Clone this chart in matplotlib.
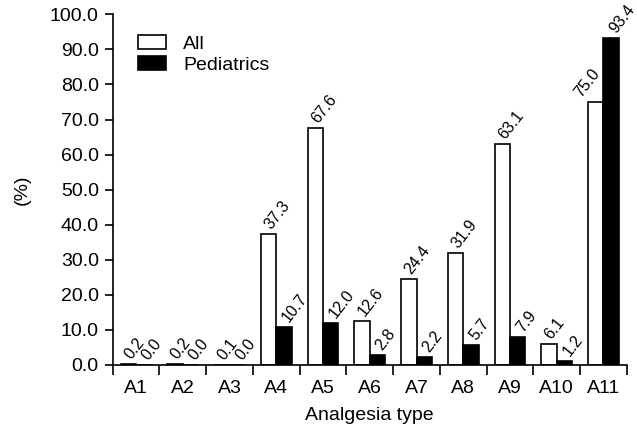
import numpy as np
import matplotlib
matplotlib.use("Agg")
import matplotlib.pyplot as plt

plt.rcParams["font.family"] = ["Liberation Sans", "DejaVu Sans"]

categories = ["A1", "A2", "A3", "A4", "A5", "A6", "A7", "A8", "A9", "A10", "A11"]
all_vals = [0.2, 0.2, 0.1, 37.3, 67.6, 12.6, 24.4, 31.9, 63.1, 6.1, 75.0]
ped_vals = [0.0, 0.0, 0.0, 10.7, 12.0, 2.8, 2.2, 5.7, 7.9, 1.2, 93.4]

fig = plt.figure(figsize=(6.37, 4.36), dpi=100)
ax = fig.add_axes([0.177, 0.163, 0.807, 0.804])

x = np.arange(len(categories))
w = 0.33
ax.bar(x - w / 2, all_vals, w, color="white", edgecolor="black", linewidth=1.2, label="All")
ax.bar(x + w / 2, ped_vals, w, color="black", edgecolor="black", linewidth=1.2, label="Pediatrics")

# rotated value labels sitting on the bar's top-left corner;
# an "All" label next to a taller Pediatrics bar goes to the left instead
fs_val = 11.5
for i, (a, p) in enumerate(zip(all_vals, ped_vals)):
    if p > a:
        ax.text(i - 0.02, a + 0.6, f"{a:.1f}", rotation=52, ha="right", va="bottom", fontsize=fs_val)
    else:
        ax.text(i - w + 0.02, a + 0.6, f"{a:.1f}", rotation=52, ha="left", va="bottom", fontsize=fs_val)
    ax.text(i + 0.07, p + 0.6, f"{p:.1f}", rotation=52, ha="left", va="bottom", fontsize=fs_val)

ax.set_xlim(-0.5, len(categories) - 0.5)
ax.set_ylim(0, 100)
yt = np.arange(0, 101, 10)
ax.set_yticks(yt)
ax.set_yticklabels([f"{t:.1f}" for t in yt], fontsize=14)
ax.set_xticks(x)
ax.set_xticklabels(categories, fontsize=14)
ax.tick_params(axis="x", which="major", length=0, pad=11)
ax.set_xticks(np.arange(-0.5, len(categories), 1), minor=True)
ax.tick_params(axis="x", which="minor", length=7, width=1.2, direction="out")
ax.tick_params(axis="y", length=6, width=1.2, direction="out", pad=4)
for s in ("top", "right"):
    ax.spines[s].set_visible(False)
for s in ("left", "bottom"):
    ax.spines[s].set_linewidth(1.2)

ax.set_xlabel("Analgesia type", fontsize=14, labelpad=7)
ax.set_ylabel("(%)", fontsize=14, labelpad=14)

ax.legend(loc="upper left", bbox_to_anchor=(0.05, 0.94), frameon=False, fontsize=14,
          borderaxespad=0, borderpad=0, handlelength=1.4, handleheight=0.7,
          labelspacing=0.15, handletextpad=0.9)

fig.savefig("out.png", dpi=100)
